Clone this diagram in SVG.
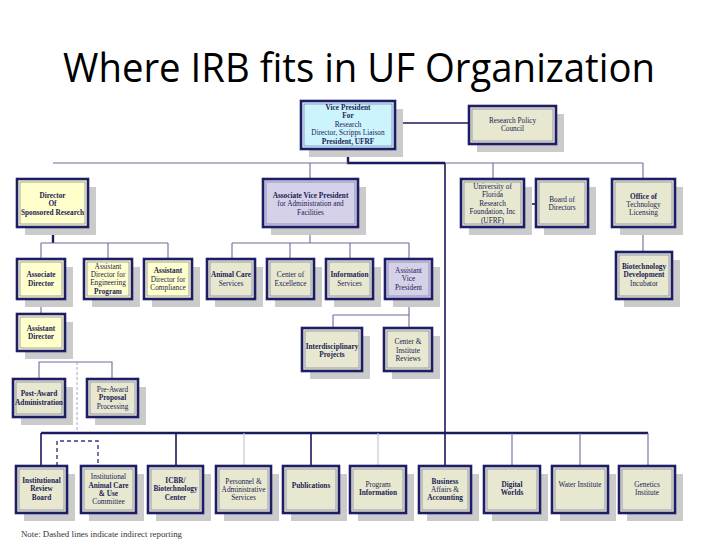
<svg xmlns="http://www.w3.org/2000/svg" width="720" height="540" viewBox="0 0 720 540">
<style>
.sh{fill:#cbcbcb}
.bx{stroke:#1e1e66;stroke-width:2.6}
.in{fill:none;stroke:#7a7aaa;stroke-width:0.7}
.y{fill:#ffffcc}
.g{fill:#e7e8cf}
.l{fill:#d5d1e8}
.c{fill:#ccf4fd}
text{font-family:"Liberation Serif","Times New Roman",serif;font-size:7.3px;fill:#1c1c55;text-anchor:middle}
.b{font-weight:bold}
.thick{stroke:#1a1a5e;stroke-width:2.4;fill:none}
.med{stroke:#1a1a5e;stroke-width:1.6;fill:none}
.thin{stroke:#6c6c9c;stroke-width:1.1;fill:none}
.pale{stroke:#c4c4d4;stroke-width:1.1;fill:none}
.dash1{stroke:#a8a8b8;stroke-width:1;stroke-dasharray:3 2;fill:none}
.dash2{stroke:#3a3a7a;stroke-width:1.4;stroke-dasharray:4 3;fill:none}
</style>
<rect width="720" height="540" fill="#ffffff"/>
<text id="title" x="359" y="82" style="font-family:'Open Sans','Noto Sans',sans-serif;font-size:40px;fill:#000" textLength="592" lengthAdjust="spacingAndGlyphs">Where IRB fits in UF Organization</text>

<g id="connectors">
<path class="thick" d="M348 149V163H445"/>
<path class="thin" d="M53 163H348M445 163H643"/>
<path class="med" d="M445 163V433"/>
<path class="med" d="M395 123H469"/>
<path class="thin" d="M310 163V179M493 163V179M643 163V179"/>
<path class="med" d="M524 204H536"/>
<path class="thin" d="M643 227V252"/>
<path class="thick" d="M53 227V243"/>
<path class="thin" d="M41 243H168M41 243V259M108 243V259M168 243V259"/>
<path class="thin" d="M310 227V243M232 243H409M232 243V259M290 243V259M350 243V259M409 243V259"/>
<path class="thin" d="M409 299V315M333 315H409M333 315V328M409 315V328"/>
<path class="thin" d="M41 299V314"/>
<path class="thin" d="M39 379V362H112V379"/>
<path class="dash1" d="M77 362V433"/>
<path class="thick" d="M41 433H648"/>
<path class="med" d="M41 433V466M176 433V466M311 433V466M445 433V466"/>
<path class="pale" d="M244 433V466M378 433V466"/>
<path class="thin" d="M512 433V466M580 433V466M648 433V466"/>
<path class="dash2" d="M57 466V441H98V466"/>
</g>

<g id="vp"><rect class="sh" x="309" y="109" width="94" height="48"/><rect class="bx c" x="301" y="101" width="94" height="48"/><rect class="in" x="304" y="104" width="88" height="42"/>
<text x="348" y="109.5" class="b">Vice President</text><text x="348" y="118" class="b">For</text><text x="348" y="126.5">Research</text><text x="348" y="135">Director, Scripps Liaison</text><text x="348" y="143.5" class="b">President, UFRF</text></g>

<g id="rpc"><rect class="sh" x="477" y="114" width="87" height="38"/><rect class="bx g" x="469" y="106" width="87" height="38"/><rect class="in" x="472" y="109" width="81" height="32"/>
<text x="512.5" y="122.5">Research Policy</text><text x="512.5" y="131">Council</text></g>

<g id="dsr"><rect class="sh" x="25" y="187" width="71" height="48"/><rect class="bx y" x="17" y="179" width="71" height="48"/><rect class="in" x="20" y="182" width="65" height="42"/>
<text x="52.5" y="198" class="b">Director</text><text x="52.5" y="206.3" class="b">Of</text><text x="52.5" y="214.5" class="b">Sponsored Research</text></g>

<g id="avp"><rect class="sh" x="271" y="187" width="95" height="48"/><rect class="bx l" x="263" y="179" width="95" height="48"/><rect class="in" x="266" y="182" width="89" height="42"/>
<text x="310.5" y="198" class="b">Associate Vice President</text><text x="310.5" y="206.3">for Administration and</text><text x="310.5" y="214.5">Facilities</text></g>

<g id="ufrf"><rect class="sh" x="469" y="187" width="63" height="48"/><rect class="bx g" x="461" y="179" width="63" height="48"/><rect class="in" x="464" y="182" width="57" height="42"/>
<text x="492.5" y="189.2">University of</text><text x="492.5" y="196.8">Florida</text><text x="492.5" y="205.8">Research</text><text x="492.5" y="214.2">Foundation, Inc</text><text x="492.5" y="222.5">(UFRF)</text></g>

<g id="bod"><rect class="sh" x="544" y="187" width="52" height="48"/><rect class="bx g" x="536" y="179" width="52" height="48"/><rect class="in" x="539" y="182" width="46" height="42"/>
<text x="562" y="201.8">Board of</text><text x="562" y="210.2">Directors</text></g>

<g id="otl"><rect class="sh" x="620" y="187" width="63" height="48"/><rect class="bx g" x="612" y="179" width="63" height="48"/><rect class="in" x="615" y="182" width="57" height="42"/>
<text x="643.5" y="198.5" class="b">Office of</text><text x="643.5" y="206.8">Technology</text><text x="643.5" y="214.5">Licensing</text></g>

<g id="assocdir"><rect class="sh" x="25" y="267" width="48" height="40"/><rect class="bx y" x="17" y="259" width="48" height="40"/><rect class="in" x="20" y="262" width="42" height="34"/>
<text x="41" y="276.8" class="b">Associate</text><text x="41" y="285.8" class="b">Director</text></g>

<g id="adeng"><rect class="sh" x="92" y="267" width="48" height="40"/><rect class="bx y" x="84" y="259" width="48" height="40"/><rect class="in" x="87" y="262" width="42" height="34"/>
<text x="108" y="268.5">Assistant</text><text x="108" y="276.8">Director for</text><text x="108" y="285.2">Engineering</text><text x="108" y="293.5" class="b">Program</text></g>

<g id="adcomp"><rect class="sh" x="152" y="267" width="48" height="40"/><rect class="bx y" x="144" y="259" width="48" height="40"/><rect class="in" x="147" y="262" width="42" height="34"/>
<text x="168" y="273.2" class="b">Assistant</text><text x="168" y="281.5">Director for</text><text x="168" y="289.8">Compliance</text></g>

<g id="acs"><rect class="sh" x="215" y="267" width="48" height="40"/><rect class="bx g" x="207" y="259" width="48" height="40"/><rect class="in" x="210" y="262" width="42" height="34"/>
<text x="231" y="276.8" class="b">Animal Care</text><text x="231" y="285.8">Services</text></g>

<g id="coe"><rect class="sh" x="275" y="267" width="47" height="40"/><rect class="bx g" x="267" y="259" width="47" height="40"/><rect class="in" x="270" y="262" width="41" height="34"/>
<text x="290.5" y="276.8">Center of</text><text x="290.5" y="285.8">Excellence</text></g>

<g id="is"><rect class="sh" x="334" y="267" width="47" height="40"/><rect class="bx g" x="326" y="259" width="47" height="40"/><rect class="in" x="329" y="262" width="41" height="34"/>
<text x="349.5" y="276.8" class="b">Information</text><text x="349.5" y="285.8">Services</text></g>

<g id="asstvp"><rect class="sh" x="393" y="267" width="47" height="40"/><rect class="bx l" x="385" y="259" width="47" height="40"/><rect class="in" x="388" y="262" width="41" height="34"/>
<text x="408.5" y="272.5">Assistant</text><text x="408.5" y="280.8">Vice</text><text x="408.5" y="289.8">President</text></g>

<g id="bdi"><rect class="sh" x="624" y="260" width="56" height="47"/><rect class="bx g" x="616" y="252" width="56" height="47"/><rect class="in" x="619" y="255" width="50" height="41"/>
<text x="644" y="268.5" class="b">Biotechnology</text><text x="644" y="276.8" class="b">Development</text><text x="644" y="285.8">Incubator</text></g>

<g id="asstdir"><rect class="sh" x="25" y="322" width="48" height="37"/><rect class="bx y" x="17" y="314" width="48" height="37"/><rect class="in" x="20" y="317" width="42" height="31"/>
<text x="41" y="331.2" class="b">Assistant</text><text x="41" y="339.2" class="b">Director</text></g>

<g id="idp"><rect class="sh" x="310" y="336" width="60" height="43"/><rect class="bx g" x="302" y="328" width="60" height="43"/><rect class="in" x="305" y="331" width="54" height="37"/>
<text x="332" y="348.5" class="b">Interdisciplinary</text><text x="332" y="356.8" class="b">Projects</text></g>

<g id="cir"><rect class="sh" x="392" y="336" width="48" height="43"/><rect class="bx g" x="384" y="328" width="48" height="43"/><rect class="in" x="387" y="331" width="42" height="37"/>
<text x="408" y="344.2">Center &amp;</text><text x="408" y="352.5">Institute</text><text x="408" y="360.8">Reviews</text></g>

<g id="postaward"><rect class="sh" x="21" y="387" width="52" height="38"/><rect class="bx g" x="13" y="379" width="52" height="38"/><rect class="in" x="16" y="382" width="46" height="32"/>
<text x="39" y="395.8" class="b">Post-Award</text><text x="39" y="404.8" class="b">Administration</text></g>

<g id="preaward"><rect class="sh" x="95" y="387" width="51" height="38"/><rect class="bx g" x="87" y="379" width="51" height="38"/><rect class="in" x="90" y="382" width="45" height="32"/>
<text x="112.5" y="391.8">Pre-Award</text><text x="112.5" y="400.2" class="b">Proposal</text><text x="112.5" y="408.5">Processing</text></g>

<g id="irb"><rect class="sh" x="24" y="474" width="51" height="47"/><rect class="bx g" x="16" y="466" width="51" height="47"/><rect class="in" x="19" y="469" width="45" height="41"/>
<text x="41.5" y="482.5" class="b">Institutional</text><text x="41.5" y="490.8" class="b">Review</text><text x="41.5" y="499.5" class="b">Board</text></g>

<g id="iacuc"><rect class="sh" x="89" y="474" width="55" height="47"/><rect class="bx g" x="81" y="466" width="55" height="47"/><rect class="in" x="84" y="469" width="49" height="41"/>
<text x="108.5" y="478.5">Institutional</text><text x="108.5" y="487.5" class="b">Animal Care</text><text x="108.5" y="495.8" class="b">&amp; Use</text><text x="108.5" y="504.2">Committee</text></g>

<g id="icbr"><rect class="sh" x="156" y="474" width="55" height="47"/><rect class="bx g" x="148" y="466" width="55" height="47"/><rect class="in" x="151" y="469" width="49" height="41"/>
<text x="175.5" y="482.5" class="b">ICBR/</text><text x="175.5" y="490.8" class="b">Biotechnology</text><text x="175.5" y="499.5" class="b">Center</text></g>

<g id="personnel"><rect class="sh" x="224" y="474" width="55" height="47"/><rect class="bx g" x="216" y="466" width="55" height="47"/><rect class="in" x="219" y="469" width="49" height="41"/>
<text x="243.5" y="483.5">Personnel &amp;</text><text x="243.5" y="491.8">Administrative</text><text x="243.5" y="500.2">Services</text></g>

<g id="pubs"><rect class="sh" x="291" y="474" width="56" height="47"/><rect class="bx g" x="283" y="466" width="56" height="47"/><rect class="in" x="286" y="469" width="50" height="41"/>
<text x="311" y="487.5" class="b">Publications</text></g>

<g id="proginfo"><rect class="sh" x="358" y="474" width="56" height="47"/><rect class="bx g" x="350" y="466" width="56" height="47"/><rect class="in" x="353" y="469" width="50" height="41"/>
<text x="378" y="486.8">Program</text><text x="378" y="495.2" class="b">Information</text></g>

<g id="business"><rect class="sh" x="427" y="474" width="52" height="47"/><rect class="bx g" x="419" y="466" width="52" height="47"/><rect class="in" x="422" y="469" width="46" height="41"/>
<text x="445" y="483.5" class="b">Business</text><text x="445" y="491.8">Affairs &amp;</text><text x="445" y="500.2" class="b">Accounting</text></g>

<g id="digital"><rect class="sh" x="492" y="474" width="56" height="47"/><rect class="bx g" x="484" y="466" width="56" height="47"/><rect class="in" x="487" y="469" width="50" height="41"/>
<text x="512" y="486.8" class="b">Digital</text><text x="512" y="495.2" class="b">Worlds</text></g>

<g id="water"><rect class="sh" x="560" y="474" width="56" height="47"/><rect class="bx g" x="552" y="466" width="56" height="47"/><rect class="in" x="555" y="469" width="50" height="41"/>
<text x="580" y="486.8">Water Institute</text></g>

<g id="genetics"><rect class="sh" x="627" y="474" width="56" height="47"/><rect class="bx g" x="619" y="466" width="56" height="47"/><rect class="in" x="622" y="469" width="50" height="41"/>
<text x="647" y="486.8">Genetics</text><text x="647" y="495.2">Institute</text></g>

<text id="note" x="21" y="536.5" style="text-anchor:start;font-size:8.5px;fill:#333" textLength="161" lengthAdjust="spacingAndGlyphs">Note: Dashed lines indicate indirect reporting</text>
</svg>
